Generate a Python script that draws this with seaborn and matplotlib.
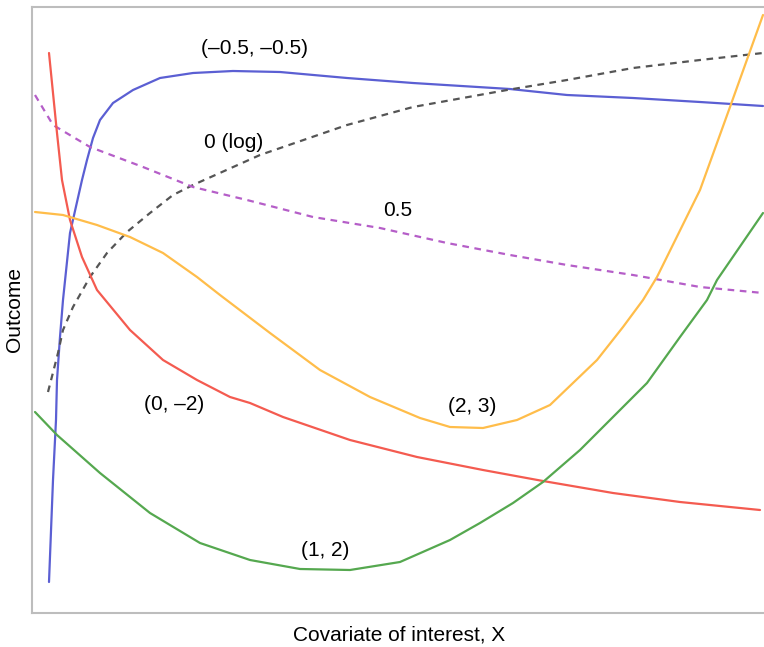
import matplotlib
matplotlib.use("Agg")
import matplotlib.pyplot as plt
import seaborn as sns
import pandas as pd

# curves (x = covariate, y = outcome, arbitrary units)
blue_x = [17, 21, 24, 25, 28, 31, 38, 50, 55, 61, 68, 81, 101, 128, 161, 201, 248, 315, 381, 478, 535, 601, 668, 731]
blue_y = [31, 133, 193, 233, 276, 313, 380, 433, 453, 475, 493, 510, 523, 535, 540, 542, 541, 535, 530, 524, 518, 515, 511, 507]

log_x = [16, 26, 31, 41, 58, 75, 95, 118, 141, 161, 228, 315, 381, 475, 535, 601, 668, 731]
log_y = [221, 260, 283, 306, 336, 360, 381, 400, 418, 428, 458, 488, 506, 523, 533, 545, 553, 560]

half_x = [3, 21, 58, 111, 161, 215, 281, 348, 415, 478, 535, 601, 668, 731]
half_y = [518, 488, 466, 446, 426, 413, 396, 385, 370, 358, 348, 338, 326, 320]

red_x = [17, 25, 30, 38, 50, 65, 98, 131, 165, 198, 218, 251, 318, 385, 451, 511, 581, 648, 728]
red_y = [560, 480, 433, 393, 356, 323, 283, 253, 233, 216, 210, 196, 173, 156, 143, 132, 120, 111, 103]

orange_x = [3, 31, 65, 98, 131, 165, 188, 238, 288, 338, 388, 418, 451, 485, 518, 565, 591, 611, 625, 668, 698, 731]
orange_y = [401, 398, 388, 376, 360, 336, 318, 280, 243, 216, 195, 186, 185, 193, 208, 253, 286, 313, 336, 423, 506, 598]

green_x = [3, 25, 68, 118, 168, 218, 268, 318, 368, 418, 448, 481, 511, 548, 581, 615, 648, 675, 685, 731]
green_y = [201, 178, 140, 100, 70, 53, 44, 43, 51, 73, 90, 110, 131, 163, 196, 230, 276, 313, 333, 400]

labels = ["(–0.5, –0.5)", "0 (log)", "0.5", "(0, –2)", "(2, 3)", "(1, 2)"]

sns.set_style("white")
plt.rcParams["font.family"] = ["Liberation Sans", "DejaVu Sans"]

fig = plt.figure(figsize=(7.64, 6.47), dpi=100)
ax = fig.add_axes([32 / 764, 34 / 647, 734 / 764, 606 / 647])

curves = [
    (blue_x, blue_y, "#5b5fd3", "-"),
    (log_x, log_y, "#555555", (0, (3, 2.5))),
    (half_x, half_y, "#b55ec8", (0, (3, 2.5))),
    (red_x, red_y, "#f45b50", "-"),
    (orange_x, orange_y, "#ffbd4a", "-"),
    (green_x, green_y, "#55a84f", "-"),
]
for xs, ys, col, ls in curves:
    df = pd.DataFrame({"x": xs, "y": ys})
    sns.lineplot(data=df, x="x", y="y", color=col, linestyle=ls,
                 linewidth=1.6, sort=False, ax=ax)

# curve labels
label_pos = [(222, 565), (202, 470), (366, 403), (142, 208), (440, 206), (293, 63)]
for txt, (lx, ly) in zip(labels, label_pos):
    ax.text(lx, ly, txt, fontsize=15, color="black", ha="center", va="center")

ax.set_xlim(0, 734)
ax.set_ylim(0, 606)
ax.set_xticks([])
ax.set_yticks([])
ax.set_xlabel("Covariate of interest, X", fontsize=15, color="black", labelpad=9)
ax.set_ylabel("Outcome", fontsize=15, color="black", labelpad=6)
for sp in ax.spines.values():
    sp.set_color("#bdbdbd")
    sp.set_linewidth(1.5)

fig.savefig("out.png", dpi=100)
